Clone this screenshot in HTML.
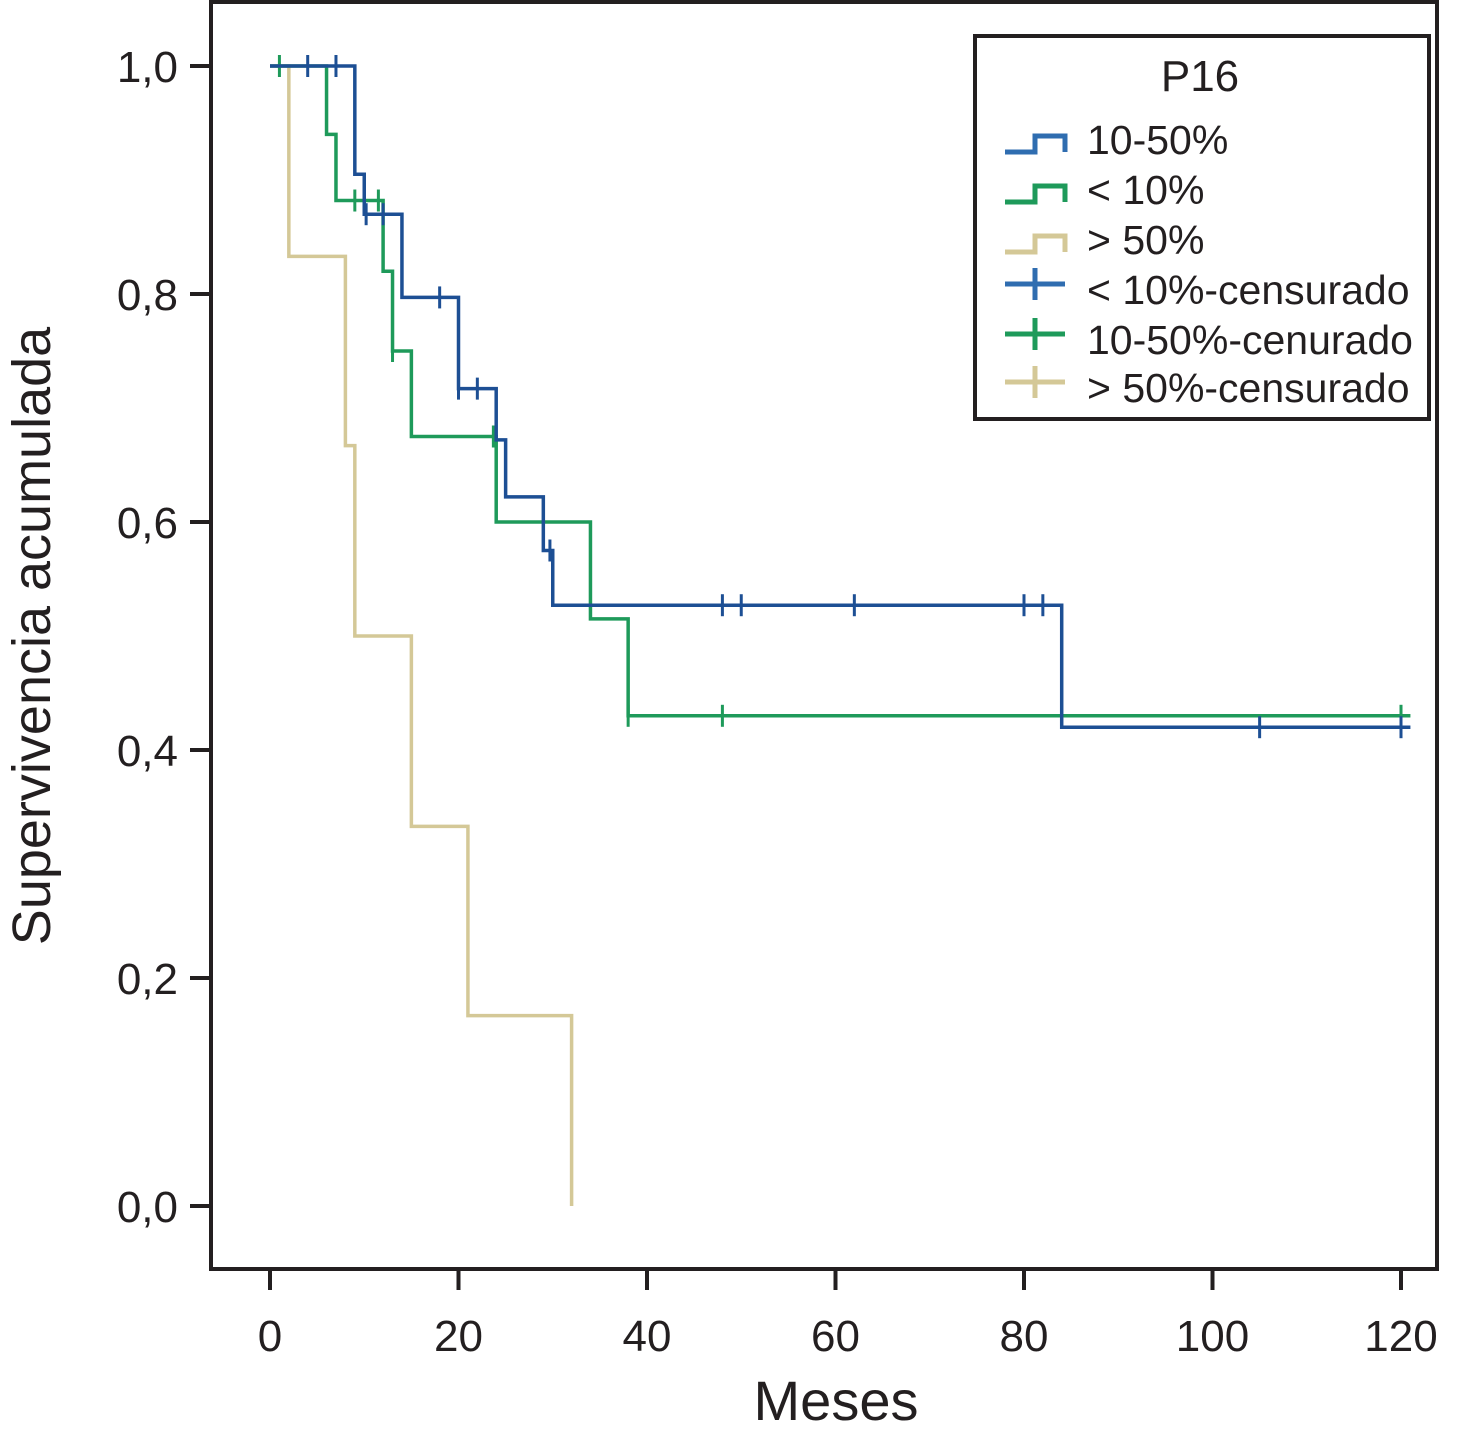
<!DOCTYPE html>
<html><head><meta charset="utf-8"><style>
html,body{margin:0;padding:0;background:#fff;}
svg text{font-family:"Liberation Sans",Arial,sans-serif;fill:#231f20;}
</style></head><body>
<svg id="chart" width="1466" height="1445" viewBox="0 0 1466 1445" xmlns="http://www.w3.org/2000/svg">
<rect x="211" y="2" width="1226" height="1267" fill="none" stroke="#231f20" stroke-width="4"/>
<g id="axes"></g>
<g id="series"></g>
<text x="836" y="1420" font-size="56" text-anchor="middle">Meses</text>
<text transform="translate(50,636) rotate(-90)" font-size="54" text-anchor="middle">Supervivencia acumulada</text>
<g>
<rect x="975" y="36" width="454" height="383" fill="#fff" stroke="#231f20" stroke-width="4"/>
<text x="1200" y="91" font-size="44" text-anchor="middle">P16</text>
<g id="legend-items"></g>
</g>
</svg>
<script>
const xTicks=[0,20,40,60,80,100,120];
const yTicks=[0,0.2,0.4,0.6,0.8,1.0];
const yTickLabels=["0,0","0,2","0,4","0,6","0,8","1,0"];
// Kaplan-Meier steps: times of events and survival after event
const blueTimes=[0,9,10,14,20,24,25,29,30,84,121];
const blueSurv=[1,0.905,0.87,0.797,0.717,0.672,0.622,0.575,0.527,0.42,0.42];
const blueCensT=[4,7,10.2,12,18,20,22,29.7,48,50,62,80,82,105,120];
const greenTimes=[0,6,7,12,13,15,24,34,38,121];
const greenSurv=[1,0.94,0.882,0.82,0.75,0.675,0.6,0.515,0.43,0.43];
const greenCensT=[1,9,11.5,13,23.7,38,48,120];
const tanTimes=[0,2,8,9,15,21,32];
const tanSurv=[1,0.833,0.667,0.5,0.333,0.167,0];
const tanCensT=[];
const legendLabels=["10-50%","< 10%","> 50%","< 10%-censurado","10-50%-cenurado","> 50%-censurado"];

const X=t=>270+t*9.425;
const Y=s=>1206-s*1140;
const NS="http://www.w3.org/2000/svg";
function mk(tag,attrs,parent){const e=document.createElementNS(NS,tag);for(const k in attrs)e.setAttribute(k,attrs[k]);parent.appendChild(e);return e;}
const axes=document.getElementById('axes');
xTicks.forEach(t=>{
 const l=mk('line',{x1:X(t),x2:X(t),y1:1269,y2:1290,stroke:'#231f20','stroke-width':4},axes);
 
 
 const tx=mk('text',{x:X(t),y:1351,'font-size':44,'text-anchor':'middle'},axes);
 tx.textContent=t;
 
 
});
yTicks.forEach((v,i)=>{
 const l=mk('line',{x1:190,x2:211,y1:Y(v),y2:Y(v),stroke:'#231f20','stroke-width':4},axes);
 
 
 const tx=mk('text',{x:178,y:Y(v)+16,'font-size':44,'text-anchor':'end'},axes);
 tx.textContent=yTickLabels[i];
 
 
});
const ser=document.getElementById('series');
function survAt(times,surv,t){let s=surv[0];for(let i=0;i<times.length;i++){if(times[i]<=t)s=surv[i];}return s;}
function drawKM(times,surv,cens,color,name){
 let d='M'+X(times[0])+','+Y(surv[0]);
 for(let i=1;i<times.length;i++){d+=' H'+X(times[i])+' V'+Y(surv[i]);}
 const p=mk('path',{d:d,fill:'none',stroke:color,'stroke-width':3.5},ser);
 
 
 cens.forEach(t=>{
  const s=survAt(times,surv,t);
  const c=mk('line',{x1:X(t),x2:X(t),y1:Y(s)-11,y2:Y(s)+11,stroke:color,'stroke-width':3},ser);
  
  
 });
}
drawKM(tanTimes,tanSurv,tanCensT,'#d4c897','gt50');
drawKM(greenTimes,greenSurv,greenCensT,'#1e9a5a','lt10');
drawKM(blueTimes,blueSurv,blueCensT,'#1d4f94','p10-50');
const li=document.getElementById('legend-items');
const lcolors=['#2f6db0','#1e9a5a','#d4c897','#2f6db0','#1e9a5a','#d4c897'];
const ly=[140,190,240,290,340,388];
legendLabels.forEach((lab,i)=>{
 const y=ly[i];
 if(i<3){
  const p=mk('path',{d:`M1005,${y+12} H1035 V${y-4} H1065 V${y+12}`,fill:'none',stroke:lcolors[i],'stroke-width':5},li);
  
  
 } else {
  const p=mk('path',{d:`M1005,${y-6} H1065 M1035,${y-22} V${y+10}`,fill:'none',stroke:lcolors[i],'stroke-width':5},li);
  
  
 }
 const t=mk('text',{x:1087,y:(i<3?y+14:y+14),'font-size':41},li);
 t.textContent=lab;
 
 
});
</script>
</body></html>
